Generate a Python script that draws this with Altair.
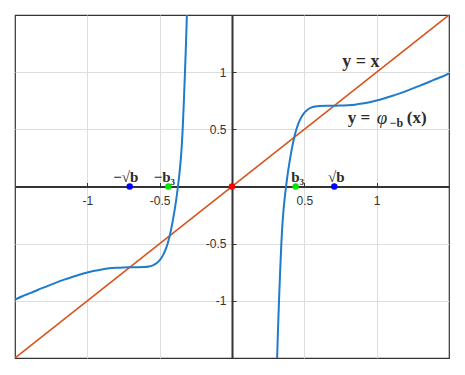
import altair as alt
import pandas as pd

# ---------------- data ----------------
tick_values = [-1, -0.5, 0.5, 1]

diag_x = [-1.5, 1.5]
diag_y = [-1.5, 1.5]

right_x = [0.312, 0.318, 0.325, 0.3325, 0.341, 0.3464, 0.3533, 0.3622, 0.3736, 0.3868,
           0.4024, 0.4208, 0.4344, 0.4453, 0.4588, 0.4767, 0.4967, 0.5197, 0.5464, 0.575,
           0.608, 0.660, 0.707, 0.750, 0.800, 0.850, 0.900, 0.950,
           1.000, 1.050, 1.100, 1.160, 1.220, 1.280, 1.340, 1.390, 1.450, 1.500]
right_y = [-1.50, -1.25, -1.00, -0.75, -0.50, -0.375, -0.25, -0.125, 0.0, 0.125,
           0.25, 0.375, 0.45, 0.50, 0.55, 0.60, 0.64, 0.67, 0.69, 0.70,
           0.705, 0.7065, 0.707, 0.708, 0.711, 0.716, 0.725, 0.737,
           0.752, 0.769, 0.789, 0.815, 0.843, 0.873, 0.903, 0.930, 0.960, 0.990]

left_x = [-1.500, -1.450, -1.390, -1.340, -1.280, -1.220, -1.160, -1.100, -1.050, -1.000,
          -0.950, -0.900, -0.850, -0.800, -0.750, -0.707, -0.660, -0.608,
          -0.575, -0.5464, -0.5197, -0.4967, -0.4767, -0.4588, -0.4453, -0.4344, -0.4208,
          -0.4024, -0.3868, -0.3736, -0.3622, -0.3533, -0.3464, -0.341, -0.3325, -0.325,
          -0.318, -0.312]
left_y = [-0.990, -0.960, -0.930, -0.903, -0.873, -0.843, -0.815, -0.789, -0.769, -0.752,
          -0.737, -0.725, -0.716, -0.711, -0.708, -0.707, -0.7065, -0.705,
          -0.70, -0.69, -0.67, -0.64, -0.60, -0.55, -0.50, -0.45, -0.375,
          -0.25, -0.125, 0.0, 0.125, 0.25, 0.375, 0.50, 0.75, 1.00,
          1.25, 1.50]

pt_x = [-0.707, -0.44, 0.0, 0.44, 0.707]
pt_y = [0, 0, 0, 0, 0]
pt_kind = ["sqrt b", "b3", "origin", "b3", "sqrt b"]

neg_lab_x = [-0.707, -0.44]
neg_lab_text = ["−√b", "−b₃"]
pos_lab_x = [0.44, 0.707]
pos_lab_text = ["b₃", "√b"]

# ---------------- tables ----------------
diag_df = pd.DataFrame({"x": diag_x, "y": diag_y})
curve_df = pd.concat([
    pd.DataFrame({"x": left_x, "y": left_y, "branch": "left"}),
    pd.DataFrame({"x": right_x, "y": right_y, "branch": "right"}),
])
pt_df = pd.DataFrame({"x": pt_x, "y": pt_y, "kind": pt_kind})
neg_df = pd.DataFrame({"x": neg_lab_x, "y": [0] * len(neg_lab_x), "t": neg_lab_text})
pos_df = pd.DataFrame({"x": pos_lab_x, "y": [0] * len(pos_lab_x), "t": pos_lab_text})

W, H = 434, 343
xs = alt.Scale(domain=[-1.5, 1.5], nice=False, zero=False)
ys = alt.Scale(domain=[-1.5, 1.5], nice=False, zero=False)

lab_font = "Liberation Sans"
lab_color = "#333333"

x_label_axis = alt.Axis(orient="bottom", offset=-H / 2, values=tick_values, title=None,
                        grid=True, gridColor="#dedede", gridWidth=1,
                        ticks=False, tickSize=0, labelPadding=9, labelFlush=False,
                        labelExpr="toString(datum.value)", labelFont=lab_font,
                        labelFontSize=12, labelColor=lab_color,
                        domain=True, domainColor="#333333", domainWidth=2)
y_label_axis = alt.Axis(orient="left", offset=-W / 2, values=tick_values, title=None,
                        grid=True, gridColor="#dedede", gridWidth=1,
                        ticks=False, tickSize=0, labelPadding=6, labelFlush=False,
                        labelExpr="toString(datum.value)", labelFont=lab_font,
                        labelFontSize=12, labelColor=lab_color,
                        domain=True, domainColor="#333333", domainWidth=2)
x_tick_axis = alt.Axis(orient="top", offset=-H / 2, values=tick_values, title=None,
                       grid=False, labels=False, domain=False, ticks=True,
                       tickSize=4, tickColor="#333333", tickWidth=1)
y_tick_axis = alt.Axis(orient="right", offset=-W / 2, values=tick_values, title=None,
                       grid=False, labels=False, domain=False, ticks=True,
                       tickSize=4, tickColor="#333333", tickWidth=1)

diag = alt.Chart(diag_df).mark_line(color="#D95319", strokeWidth=1.6, clip=True).encode(
    x=alt.X("x:Q", scale=xs, axis=x_label_axis),
    y=alt.Y("y:Q", scale=ys, axis=y_label_axis),
)

curve = alt.Chart(curve_df).mark_line(color="#1f7bcc", strokeWidth=2, clip=True,
                                      interpolate="monotone").encode(
    x=alt.X("x:Q", scale=xs, axis=x_tick_axis),
    y=alt.Y("y:Q", scale=ys, axis=y_tick_axis),
    detail="branch:N",
)

points = alt.Chart(pt_df).mark_circle(size=42, opacity=1).encode(
    x=alt.X("x:Q", scale=xs, axis=None),
    y=alt.Y("y:Q", scale=ys, axis=None),
    color=alt.Color("kind:N", legend=None,
                    scale=alt.Scale(domain=["sqrt b", "b3", "origin"],
                                    range=["#0000FF", "#00E600", "#FF0000"])),
)

serif = "Liberation Serif"
txt_color = "#2b2b2b"
neg_labels = alt.Chart(neg_df).mark_text(font=serif, fontWeight="bold", fontSize=15,
                                         baseline="bottom", align="center", dx=-4, dy=-2,
                                         color=txt_color).encode(
    x=alt.X("x:Q", scale=xs, axis=None), y=alt.Y("y:Q", scale=ys, axis=None), text="t:N")
pos_labels = alt.Chart(pos_df).mark_text(font=serif, fontWeight="bold", fontSize=15,
                                         baseline="bottom", align="center", dx=2, dy=-2,
                                         color=txt_color).encode(
    x=alt.X("x:Q", scale=xs, axis=None), y=alt.Y("y:Q", scale=ys, axis=None), text="t:N")

# curve name annotations
ann1_df = pd.DataFrame({"x": [0.89], "y": [1.09], "t": ["y = x"]})
ann2_df = pd.DataFrame({"x": [0.80], "y": [0.595]})


def ann(df, text, dx, dy=0, size=17, weight="bold", style="normal"):
    return alt.Chart(df).mark_text(font=serif, fontWeight=weight, fontStyle=style,
                                   fontSize=size, align="left", baseline="middle",
                                   dx=dx, dy=dy, color=txt_color, text=text).encode(
        x=alt.X("x:Q", scale=xs, axis=None), y=alt.Y("y:Q", scale=ys, axis=None))


ann1 = alt.Chart(ann1_df).mark_text(font=serif, fontWeight="bold", fontSize=18,
                                    align="center", baseline="middle",
                                    color=txt_color).encode(
    x=alt.X("x:Q", scale=xs, axis=None), y=alt.Y("y:Q", scale=ys, axis=None), text="t:N")

ann2 = [
    ann(ann2_df, "y =", 0),
    ann(ann2_df, "φ", 29, size=19, weight="normal", style="italic"),
    ann(ann2_df, "−b", 42, dy=5, size=12),
    ann(ann2_df, "(x)", 59),
]

chart = alt.layer(diag, curve, points, neg_labels, pos_labels, ann1, *ann2).resolve_axis(
    x="independent", y="independent"
).properties(
    width=W, height=H,
    autosize=alt.AutoSizeParams(type="none"),
    padding={"left": 7, "top": 7, "right": 8, "bottom": 8},
).configure_view(stroke="#333333", strokeWidth=1.2)

chart.save("out.html", embed_options={"renderer": "svg", "actions": False})
